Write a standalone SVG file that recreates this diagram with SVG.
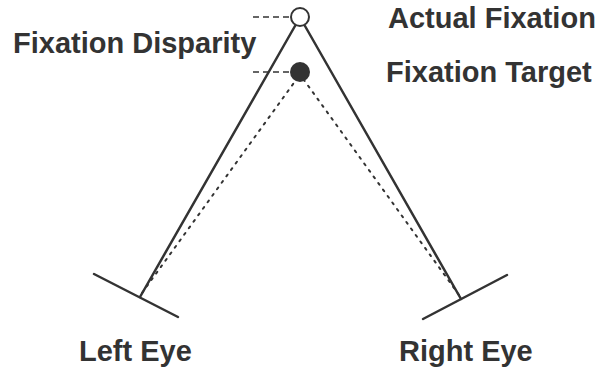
<svg xmlns="http://www.w3.org/2000/svg" width="603" height="368" viewBox="0 0 603 368">
<style>
text{font-family:"Liberation Sans",Arial,sans-serif;font-weight:bold;font-size:29px;fill:#333}
.s{stroke:#333;stroke-width:2.5;fill:none;stroke-linecap:round}
.d{stroke:#333;stroke-width:2;stroke-dasharray:2 6;fill:none;stroke-linecap:round}
.h{stroke:#333;stroke-width:1.5;stroke-dasharray:6 4;fill:none}
</style>
<rect width="603" height="368" fill="#fff"/>
<g id="connectors">
<line class="s" x1="140" y1="297" x2="295" y2="26"/>
<line class="s" x1="461" y1="299" x2="305" y2="26"/>
<line class="d" x1="142" y1="293" x2="296" y2="80"/>
<line class="d" x1="459" y1="295" x2="304" y2="80"/>
<line class="h" x1="253" y1="17" x2="290" y2="17"/>
<line class="h" x1="253" y1="72" x2="290" y2="72"/>
</g>
<g id="actual-fixation"><circle cx="300" cy="17" r="9" fill="#fff" stroke="#333" stroke-width="2"/><text x="388" y="28">Actual Fixation</text></g>
<g id="fixation-target"><circle cx="300" cy="72" r="10" fill="#333"/><text x="386" y="82">Fixation Target</text></g>
<g id="fixation-disparity"><text x="13" y="53">Fixation Disparity</text></g>
<g id="left-eye"><line class="s" x1="94" y1="274" x2="178" y2="317"/><text x="79" y="361">Left Eye</text></g>
<g id="right-eye"><line class="s" x1="423" y1="319" x2="507" y2="275"/><text x="399" y="361">Right Eye</text></g>
</svg>
